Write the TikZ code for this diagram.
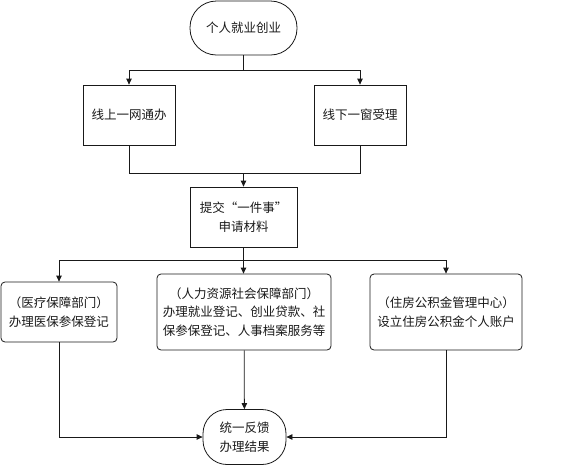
\documentclass[tikz,border=0pt]{standalone}
\usepackage{fontspec}
\newfontfamily\cjk{Noto Sans CJK SC}
\usetikzlibrary{arrows.meta,positioning}

\begin{document}
\begin{tikzpicture} [x=1pt,y=-1pt,{term/.style={rectangle,rounded corners=26.5pt,draw=black!90,line width=0.8pt,inner sep=0pt,align=center}},{box/.style={rectangle,draw=black!90,line width=0.8pt,inner sep=0pt,align=center}},{rbox/.style={rectangle,rounded corners=4pt,draw=black!90,line width=0.8pt,inner sep=0pt,align=center}},{link/.style={color=black!90,line width=0.8pt,-{Triangle[length=6pt,width=5.5pt]}}},{wire/.style={color=black!90,line width=0.8pt}},every node/.style={font=\cjk\fontsize{12.5}{18.5}\selectfont,text=black!90}]
	\useasboundingbox (0,0) rectangle (568,464);
	%%steps
	\node [term,minimum width=107pt,minimum height=54pt] (start) at (243.5,28) {个人就业创业};
	\node [box,minimum width=92pt,minimum height=60pt] (online) at (129,115) {线上一网通办};
	\node [box,minimum width=92pt,minimum height=60pt] (offline) at (360,115) {线下一窗受理};
	\node [box,minimum width=107pt,minimum height=60pt] (submit) at (243.5,217) {提交“一件事”\\申请材料};
	\node [rbox,minimum width=116pt,minimum height=60pt] (medical) at (59,312) {（医疗保障部门）\\办理医保参保登记};
	\node [rbox,minimum width=174pt,minimum height=76pt] (hr) at (244,312) {（人力资源社会保障部门）\\办理就业登记、创业贷款、社\\保参保登记、人事档案服务等};
	\node [rbox,minimum width=152pt,minimum height=76pt] (housing) at (446,312) {（住房公积金管理中心）\\设立住房公积金个人账户};
	\node [term,rounded corners=24pt,minimum width=83pt,minimum height=55pt] (result) at (244.5,437) {统一反馈\\办理结果};
	%%junctions
	\coordinate (split) at (243.5,70);
	\coordinate (merge) at (243.5,173);
	\coordinate (fork) at (243.5,260);
	%%connectors
	\draw [wire] (start) -- (split);
	\draw [link] (split) -| (online);
	\draw [link] (split) -| (offline);
	\draw [wire] (online) |- (merge);
	\draw [wire] (offline) |- (merge);
	\draw [link] (merge) -- (submit);
	\draw [wire] (submit) -- (fork);
	\draw [link] (fork) -| (medical);
	\draw [link] (fork) -| (housing);
	\draw [link] (fork) -- (hr.north -| fork);
	\draw [link] (medical) |- (result);
	\draw [link] (housing) |- (result);
	\draw [link] (hr) -- (result);
	\end{tikzpicture}
\end{document}
